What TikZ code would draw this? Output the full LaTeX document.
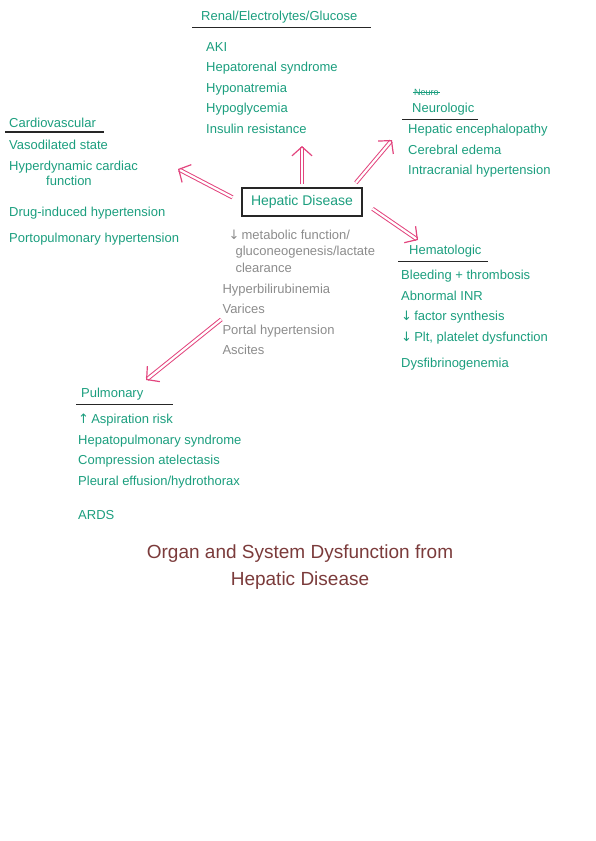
\documentclass[tikz,border=0pt]{standalone}
\usepackage{fontspec}
\setmainfont{Liberation Sans}
\newfontfamily\arrowfont{DejaVu Sans}
\usetikzlibrary{arrows.meta,positioning}
\definecolor{ink}{HTML}{1B9E7E}
\definecolor{pencil}{HTML}{8C8C8C}
\definecolor{flowpink}{HTML}{E2457E}
\definecolor{titleink}{HTML}{7B3B3B}
\newcommand{\dn}{{\arrowfont\char"2193}\,}
\newcommand{\up}{{\arrowfont\char"2191}\,}

\begin{document}
\begin{tikzpicture}[x=1pt,y=-1pt,>=Latex,node distance=8pt]
    \tikzstyle{head}=[text=ink,font=\fontsize{13}{15}\selectfont,inner sep=1pt,anchor=west]
    \tikzstyle{items}=[text=ink,font=\fontsize{13}{20.5}\selectfont,align=left,inner sep=1pt,anchor=north west]
    \tikzstyle{rule}=[draw=black!85,line width=1.1pt]
    \tikzstyle{flow}=[draw=flowpink,double=white,double distance=2.2pt,line width=1pt,-{Straight Barb[length=9pt,width=20pt,line width=1.2pt]}]
    \useasboundingbox (0,0) rectangle (595,841);
    % centre
    \node[draw=black!85,line width=1.3pt,minimum width=120pt,minimum height=28pt,text=ink,font=\fontsize{14}{16}\selectfont] (hep) at (302,202) {Hepatic Disease};
    \node[items,text=pencil,below=12pt of hep.south west,anchor=north west,xshift=-20pt] (liver) {\hspace{6pt}\dn metabolic function/\\[-4pt]
      \hspace{13pt}gluconeogenesis/lactate\\[-3.5pt]
      \hspace{13pt}clearance\\
      Hyperbilirubinemia\\ Varices\\ Portal hypertension\\ Ascites};
    % renal
    \node[head] (renal) at (200,17) {Renal/Electrolytes/Glucose};
    \draw[rule] ([xshift=-8pt,yshift=-3pt]renal.south west) -- ([xshift=13pt,yshift=-3pt]renal.south east);
    \node[items,below=17pt of renal.south west,anchor=north west,xshift=5pt] (renalitems) {AKI\\ Hepatorenal syndrome\\ Hyponatremia\\ Hypoglycemia\\ Insulin resistance};
    % cardiovascular
    \node[head] (cardio) at (8,123) {Cardiovascular};
    \draw[rule] ([xshift=-3pt,yshift=-3pt]cardio.south west) -- ([xshift=7pt,yshift=-3pt]cardio.south east);
    \node[items,below=10pt of cardio.south west,anchor=north west] (cardioitems) {Vasodilated state\\ Hyperdynamic cardiac\\[-5pt]
      \hspace{37pt}function\\[10pt]
      Drug-induced hypertension\\[6pt]
      Portopulmonary hypertension};
    % neurologic
    \node[head,font=\fontsize{9}{10}\selectfont] (struck) at (413,92) {Neuro};
    \draw[ink,line width=0.8pt] (struck.west) -- (struck.east);
    \node[head] (neuro) at (411,109) {Neurologic};
    \draw[rule] ([xshift=-9pt,yshift=-3pt]neuro.south west) -- ([xshift=2pt,yshift=-3pt]neuro.south east);
    \node[items,below=7pt of neuro.south west,anchor=north west,xshift=-4pt] (neuroitems) {Hepatic encephalopathy\\ Cerebral edema\\ Intracranial hypertension};
    % hematologic
    \node[head] (hemat) at (408,251) {Hematologic};
    \draw[rule] ([xshift=-10pt,yshift=-3pt]hemat.south west) -- ([xshift=5pt,yshift=-3pt]hemat.south east);
    \node[items,below=11pt of hemat.south west,anchor=north west,xshift=-8pt] (hematitems) {Bleeding + thrombosis\\ Abnormal INR\\ \dn factor synthesis\\ \dn Plt, platelet dysfunction\\[6pt]
      Dysfibrinogenemia};
    % pulmonary
    \node[head] (pulm) at (80,394) {Pulmonary};
    \draw[rule] ([xshift=-4pt,yshift=-3pt]pulm.south west) -- ([xshift=28pt,yshift=-3pt]pulm.south east);
    \node[items,below=12pt of pulm.south west,anchor=north west,xshift=-3pt] (pulmitems) {\up Aspiration risk\\ Hepatopulmonary syndrome\\ Compression atelectasis\\ Pleural effusion/hydrothorax\\[14pt]
      ARDS};
    % title
    \node[text=titleink,font=\fontsize{19}{27}\selectfont,align=center] (title) at (300,567) {Organ and System Dysfunction from\\ Hepatic Disease};
    % arrows
    \coordinate (renalend) at (302,146);
    \coordinate (cardioend) at (178,169);
    \coordinate (neuroend) at (392,140);
    \coordinate (hematend) at (418,240);
    \coordinate (pulmend) at (146,380);
    \draw[flow,shorten <=3pt] (hep.north) -- (renalend);
    \draw[flow,shorten <=10pt] (hep.west) -- (cardioend);
    \draw[flow,shorten <=6pt] ([xshift=50pt]hep.north) -- (neuroend);
    \draw[flow,shorten <=12pt] (hep.east) -- (hematend);
    \draw[flow] ([yshift=-27pt]liver.west) -- (pulmend);
\end{tikzpicture}
\end{document}
